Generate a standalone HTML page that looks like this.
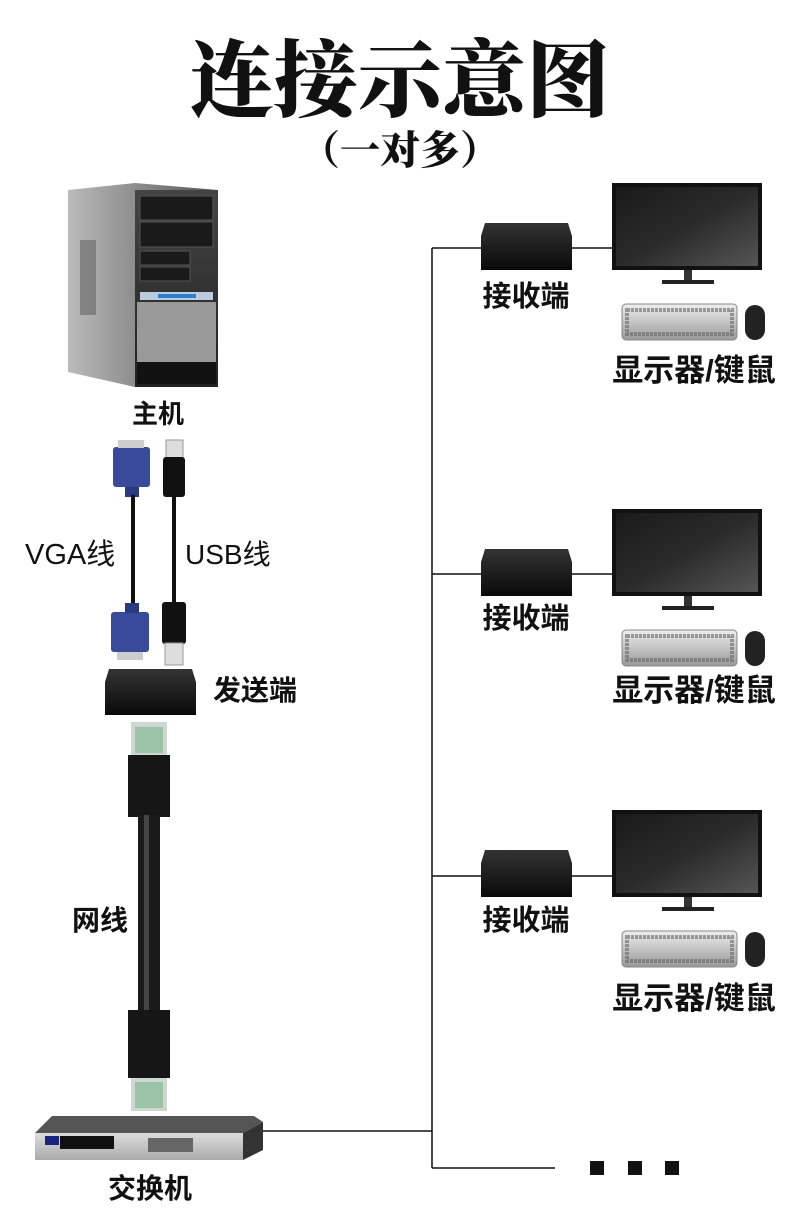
<!DOCTYPE html>
<html><head><meta charset="utf-8"><style>
html,body{margin:0;padding:0;background:#fff;}
svg{display:block}
.t{font-family:"Liberation Serif","Noto Serif CJK SC",serif;font-weight:900;fill:#111}
.l{font-family:"Liberation Sans","Noto Sans CJK SC",sans-serif;font-weight:700;fill:#111}
.v{font-family:"Liberation Sans","Noto Sans CJK SC",sans-serif;font-weight:400;fill:#111}
</style></head><body>
<svg width="800" height="1230" viewBox="0 0 800 1230" xmlns="http://www.w3.org/2000/svg">
<defs>
<linearGradient id="mon" x1="0" y1="0" x2="1" y2="1"><stop offset="0" stop-color="#1a1a1a"/><stop offset="0.5" stop-color="#2a2a2a"/><stop offset="1" stop-color="#555"/></linearGradient>
<linearGradient id="box" x1="0" y1="0" x2="0" y2="1"><stop offset="0" stop-color="#333"/><stop offset="1" stop-color="#0a0a0a"/></linearGradient>
<linearGradient id="kb" x1="0" y1="0" x2="0" y2="1"><stop offset="0" stop-color="#eee"/><stop offset="1" stop-color="#999"/></linearGradient>
<linearGradient id="pcf" x1="0" y1="0" x2="0" y2="1"><stop offset="0" stop-color="#444"/><stop offset="1" stop-color="#222"/></linearGradient>
<linearGradient id="pcs" x1="0" y1="0" x2="1" y2="0"><stop offset="0" stop-color="#bbb"/><stop offset="1" stop-color="#555"/></linearGradient>
<linearGradient id="sw" x1="0" y1="0" x2="0" y2="1"><stop offset="0" stop-color="#ddd"/><stop offset="1" stop-color="#aaa"/></linearGradient>
<g id="rx">
  <path d="M485 223 L568 223 L572 236 L572 270 L481 270 L481 236 Z" fill="url(#box)"/>
  <rect x="612" y="183" width="150" height="87" fill="#111"/>
  <rect x="616" y="187" width="142" height="79" fill="url(#mon)"/>
  <path d="M684 270 L692 270 L692 280 L684 280Z" fill="#333"/>
  <rect x="662" y="280" width="52" height="4" fill="#222"/>
  <rect x="622" y="304" width="115" height="36" rx="4" fill="url(#kb)" stroke="#888"/>
  <rect x="627" y="310" width="105" height="24" fill="none" stroke="#666" stroke-dasharray="3 1" stroke-width="4" opacity="0.6"/>
  <rect x="745" y="305" width="20" height="35" rx="10" fill="#222"/>
</g>
</defs>

<text class="t" x="400" y="110" font-size="84" text-anchor="middle">连接示意图</text>
<text class="t" x="400" y="164" font-size="40" text-anchor="middle">（一对多）</text>

<!-- PC -->
<path d="M68 190 L135 183 L218 190 L218 387 L135 387 L68 372 Z" fill="url(#pcs)"/>
<rect x="135" y="190" width="83" height="197" fill="url(#pcf)"/>
<rect x="140" y="196" width="73" height="24" fill="#1a1a1a" stroke="#555"/>
<rect x="140" y="222" width="73" height="25" fill="#1a1a1a" stroke="#555"/>
<rect x="140" y="251" width="50" height="14" fill="#1a1a1a" stroke="#555"/>
<rect x="140" y="267" width="50" height="14" fill="#1a1a1a" stroke="#555"/>
<rect x="140" y="292" width="73" height="8" fill="#bcd"/>
<rect x="158" y="294" width="38" height="4" fill="#2a7ed0"/>
<rect x="137" y="302" width="79" height="60" fill="#999"/>
<rect x="137" y="362" width="79" height="22" fill="#111"/>
<rect x="80" y="240" width="16" height="75" fill="#666" opacity="0.6"/>
<text class="l" x="158" y="423" font-size="26" text-anchor="middle">主机</text>

<!-- VGA / USB -->
<rect x="113" y="447" width="37" height="40" rx="3" fill="#3a4a9a"/>
<rect x="118" y="440" width="26" height="8" fill="#ccc"/>
<rect x="125" y="487" width="14" height="10" fill="#2a3a80"/>
<rect x="131" y="495" width="4" height="110" fill="#111"/>
<rect x="111" y="612" width="38" height="40" rx="3" fill="#3a4a9a"/>
<rect x="117" y="652" width="26" height="8" fill="#ccc"/>
<rect x="125" y="603" width="14" height="10" fill="#2a3a80"/>
<rect x="166" y="440" width="17" height="20" fill="#ddd" stroke="#999"/>
<rect x="163" y="457" width="22" height="40" rx="3" fill="#111"/>
<rect x="172" y="497" width="4" height="105" fill="#111"/>
<rect x="162" y="602" width="24" height="42" rx="3" fill="#111"/>
<rect x="165" y="643" width="18" height="22" fill="#ddd" stroke="#999"/>
<text class="v" x="25" y="564" font-size="29">VGA线</text>
<text class="v" x="185" y="564" font-size="28">USB线</text>

<!-- sender -->
<path d="M109 669 L192 669 L196 682 L196 715 L105 715 L105 682 Z" fill="url(#box)"/>
<text class="l" x="213" y="700" font-size="28">发送端</text>

<!-- network cable -->
<rect x="131" y="722" width="36" height="36" fill="#cfd8d0"/>
<rect x="135" y="727" width="28" height="26" fill="#9bc3a8"/>
<rect x="128" y="755" width="42" height="62" fill="#161616"/>
<rect x="138" y="815" width="22" height="197" fill="#1a1a1a"/>
<rect x="144" y="815" width="5" height="197" fill="#444"/>
<rect x="128" y="1010" width="42" height="68" fill="#161616"/>
<rect x="131" y="1078" width="36" height="33" fill="#cfd8d0"/>
<rect x="135" y="1082" width="28" height="26" fill="#9bc3a8"/>
<text class="l" x="72" y="930" font-size="28">网线</text>

<!-- switch -->
<path d="M52 1116 L254 1116 L263 1122 L243 1133 L35 1133 Z" fill="#555"/>
<rect x="35" y="1133" width="208" height="27" fill="url(#sw)"/>
<path d="M243 1133 L263 1122 L263 1150 L243 1160Z" fill="#333"/>
<rect x="45" y="1136" width="14" height="9" fill="#1a237e"/>
<rect x="60" y="1136" width="54" height="13" fill="#111"/>
<rect x="148" y="1138" width="45" height="14" fill="#666"/>
<text class="l" x="150" y="1198" font-size="28" text-anchor="middle">交换机</text>

<!-- lines -->
<g stroke="#111" stroke-width="1.5" fill="none">
<line x1="263" y1="1131" x2="432" y2="1131"/>
<line x1="432" y1="248" x2="432" y2="1168"/>
<line x1="432" y1="1168" x2="555" y2="1168"/>
<line x1="432" y1="248" x2="612" y2="248"/>
<line x1="432" y1="574" x2="612" y2="574"/>
<line x1="432" y1="876" x2="612" y2="876"/>
</g>
<rect x="590" y="1161" width="14" height="14" fill="#111"/>
<rect x="628" y="1161" width="14" height="14" fill="#111"/>
<rect x="665" y="1161" width="14" height="14" fill="#111"/>

<!-- receivers -->
<use href="#rx"/>
<use href="#rx" transform="translate(0,326)"/>
<use href="#rx" transform="translate(0,627)"/>
<text class="l" x="526" y="306" font-size="29" text-anchor="middle">接收端</text>
<text class="l" x="694" y="381" font-size="31" text-anchor="middle">显示器/键鼠</text>
<text class="l" x="526" y="628" font-size="29" text-anchor="middle">接收端</text>
<text class="l" x="694" y="701" font-size="31" text-anchor="middle">显示器/键鼠</text>
<text class="l" x="526" y="930" font-size="29" text-anchor="middle">接收端</text>
<text class="l" x="694" y="1009" font-size="31" text-anchor="middle">显示器/键鼠</text>
</svg>
</body></html>
